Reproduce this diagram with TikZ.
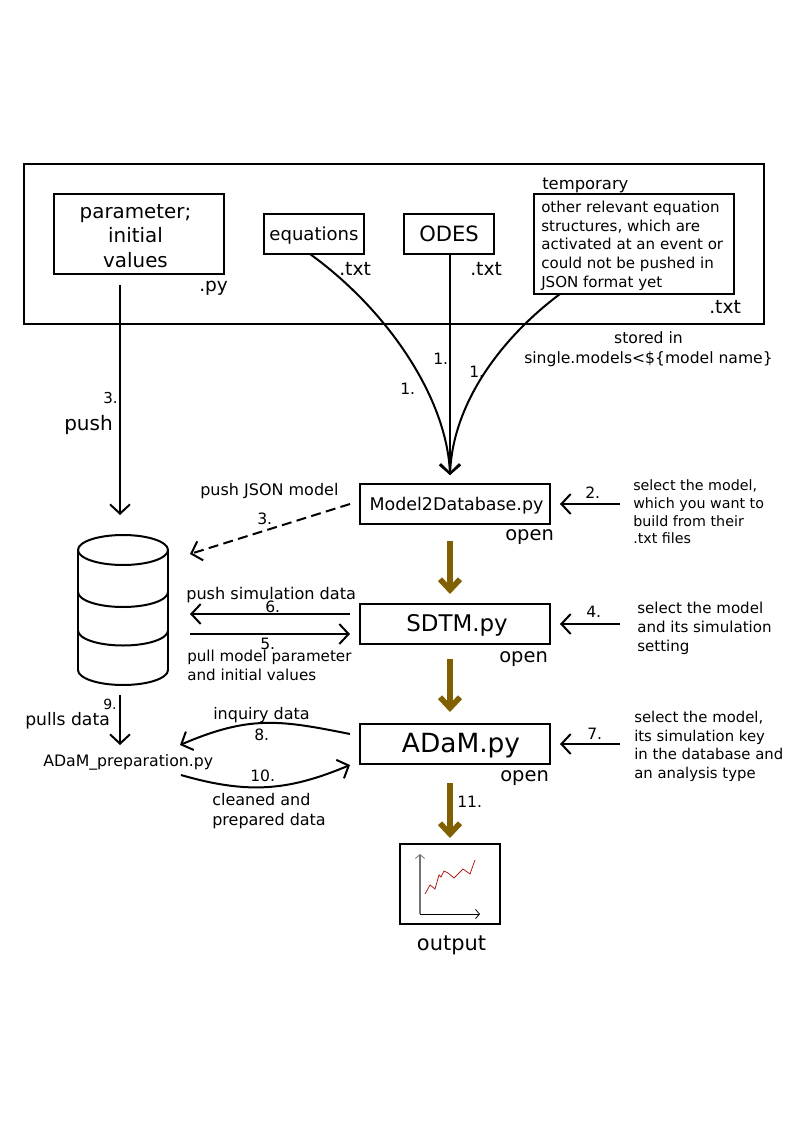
\documentclass[tikz,border=0pt]{standalone}
\usepackage{fontspec}
\setmainfont{DejaVu Sans}
\usetikzlibrary{arrows.meta}
\definecolor{olivearrow}{HTML}{806000}
\definecolor{plotred}{HTML}{B02020}
\newcommand{\fs}[1]{\fontsize{#1}{#1}\selectfont}
\newcommand{\fsl}[2]{\fontsize{#1}{#2}\selectfont}
\tikzset{
  x=0.75pt,y=-0.75pt,
  boxn/.style={draw=black,line width=1.5pt,inner sep=0pt,align=center},
  lab/.style={inner sep=0pt,align=left,text=black},
  labc/.style={inner sep=0pt,align=center,text=black},
  flow/.style={line width=1.5pt,-{Straight Barb[length=7pt,width=15pt,line width=1.5pt]}},
  thick arrow/.style={line width=4.2pt,olivearrow,-{Straight Barb[length=8pt,width=15pt,line width=4.2pt]}},
}
\begin{document}
\begin{tikzpicture}
\useasboundingbox (0,0) rectangle (794,1123);
\fill[white] (0,0) rectangle (794,1123);
% outer frame
\node[boxn,minimum width=555pt,minimum height=120pt] (frame) at (394,244) {};
% top boxes
\node[boxn,minimum width=127.5pt,minimum height=60pt] (param) at (139,234) {};
\node[labc,font=\fsl{14.9}{18.2}] (paramtxt) at (135.5,236) {parameter;\\initial\\values};
\node[boxn,minimum width=75pt,minimum height=30pt,font=\fs{13.55},text height=9.5pt,text depth=0pt] (eq) at (314,234) {equations};
\node[boxn,minimum width=67.5pt,minimum height=30pt,font=\fs{15.8},text height=10.5pt,text depth=0pt] (odes) at (449,234) {ODES};
\node[boxn,minimum width=150pt,minimum height=75pt] (other) at (634,244) {};
\node[lab,font=\fsl{11.3}{14.1},anchor=north west] (othertxt) at (541,200.5) {other relevant equation\\structures, which are\\activated at an event or\\could not be pushed in\\JSON format yet};
\node[lab,font=\fs{12.3},anchor=west] (temp) at (542,185) {temporary};
\node[lab,font=\fs{13.9},anchor=west] (pyl) at (199,288) {.py};
\node[lab,font=\fs{14},anchor=west] (t1) at (339,268.5) {.txt};
\node[lab,font=\fs{14},anchor=west] (t2) at (470,268.5) {.txt};
\node[lab,font=\fs{14},anchor=west] (t3) at (709,306.5) {.txt};
\node[labc,font=\fsl{11.7}{15}] (stored) at (648.5,349) {stored in\\single.models<\$\{model name\}};
% process boxes
\node[boxn,minimum width=142.5pt,minimum height=30pt,font=\fs{13.1},text height=9pt,text depth=0pt] (m2d) at (455,504) {\hspace*{2.2pt}Model2Database.py};
\node[boxn,minimum width=142.5pt,minimum height=30pt,font=\fs{17.2},text height=11pt,text depth=0pt] (sdtm) at (455,624) {\hspace*{3pt}SDTM.py};
\node[boxn,minimum width=142.5pt,minimum height=30pt,font=\fs{19.8},text height=13pt,text depth=0pt] (adam) at (455,744) {\hspace*{9pt}ADaM.py};
\node[boxn,minimum width=75pt,minimum height=60pt] (out) at (450,884) {};
\node[lab,font=\fs{14.6},anchor=west] (open1) at (505,537) {open};
\node[lab,font=\fs{14.6},anchor=west] (open2) at (499,659) {open};
\node[lab,font=\fs{14.6},anchor=west] (open3) at (500,778) {open};
\node[lab,font=\fs{15.7},anchor=center] (outl) at (451.5,945) {output};
% side texts
\node[lab,font=\fsl{10.7}{13.3},anchor=north west] (s2) at (633,479.5) {select the model,\\which you want to\\build from their\\.txt files};
\node[lab,font=\fsl{11.3}{14.2},anchor=north west] (s4) at (637,602) {select the model\\and its simulation\\setting};
\node[lab,font=\fsl{11.15}{14},anchor=north west] (s7) at (634,711) {select the model,\\its simulation key\\in the database and\\an analysis type};
% arrow end coordinates
\coordinate (dbtopin) at (120,515);
\coordinate (pyout) at (120,285);
\coordinate (s2start) at (620,504);
\coordinate (s4start) at (620,624);
\coordinate (s7start) at (620,744);
\coordinate (conv) at (450,475);
% top flows
\draw[flow] (pyout) -- (dbtopin);
\draw[flow] (odes.south) ++(1,0) coordinate (oa) (oa) -- (conv);
\draw[flow] (310,254) coordinate (ea) .. controls (390,312) and (447,400) .. (conv);
\draw[flow] (560,294) coordinate (oc) .. controls (505,335) and (453,400) .. (conv);
\draw[flow] (s2start) -- (m2d.east -| 560,504);
\draw[flow] (s4start) -- (560,624);
\draw[flow] (s7start) -- (560,744);
% thick arrows
\draw[thick arrow] (450,541) coordinate (ta) -- (450,594) coordinate (tb);
\draw[thick arrow] (450,659) coordinate (tc) -- (450,712) coordinate (td);
\draw[thick arrow] (450,783) coordinate (te) -- (450,838) coordinate (tf);
% database
\begin{scope}[line width=1.5pt]
\draw[fill=white] (78,550) arc[start angle=180,end angle=540,x radius=45,y radius=15];
\draw (78,550) -- (78,670) (168,550) -- (168,670);
\draw (78,592) arc[start angle=180,end angle=0,x radius=45,y radius=15];
\draw (78,630.5) arc[start angle=180,end angle=0,x radius=45,y radius=15];
\draw (78,670) arc[start angle=180,end angle=0,x radius=45,y radius=15];
\end{scope}
\node[lab,font=\fs{15},anchor=west] (push) at (64,425) {push};
\node[lab,font=\fs{11.3},anchor=west] (n3a) at (103,398) {3.};
\node[lab,font=\fs{12},anchor=west] (pj) at (200,491) {push JSON model};
\node[lab,font=\fs{11.7},anchor=west] (n3b) at (257,519) {3.};
\draw[flow,dash pattern=on 7.5pt off 4pt] (350,504) coordinate (da) -- (190,554) coordinate (db);
\node[lab,font=\fs{12.1},anchor=west] (psd) at (186,595) {push simulation data};
\node[lab,font=\fs{11.7},anchor=west] (n6) at (265,607) {6.};
\draw[flow] (350,614) coordinate (a6) -- (190,614) coordinate (b6);
\draw[flow] (190,634) coordinate (a5) -- (350,634) coordinate (b5);
\node[lab,font=\fs{11.7},anchor=west] (n5) at (260,644) {5.};
\node[lab,font=\fsl{11.35}{14.2},anchor=north west] (pm) at (187,649.5) {pull model parameter\\and initial values};
\draw[flow] (120,695) coordinate (a9) -- (120,745) coordinate (b9);
\node[lab,font=\fs{10.5},anchor=west] (n9) at (103,704) {9.};
\node[lab,font=\fs{12.9},anchor=west] (pd) at (25,720.5) {pulls data};
\node[lab,font=\fs{11.8},anchor=west] (prep) at (43,762.5) {ADaM\_preparation.py};
\node[lab,font=\fs{12},anchor=west] (inq) at (213,715.5) {inquiry data};
\node[lab,font=\fs{11.7},anchor=west] (n8) at (254,735) {8.};
\draw[flow] (350,734) coordinate (a8) .. controls (280,720) and (250,715) .. (180,745) coordinate (b8);
\draw[flow] (181,775) coordinate (a10) .. controls (250,795) and (290,790) .. (350,765) coordinate (b10);
\node[lab,font=\fs{11.7},anchor=west] (n10) at (250,776) {10.};
\node[lab,font=\fsl{12}{15},anchor=north west] (cl) at (212,793) {cleaned and\\prepared data};
\node[lab,font=\fs{11.7},anchor=west] (n11) at (457,802) {11.};
% other numbers
\node[lab,font=\fs{11.7},anchor=west] (n1a) at (400,389) {1.};
\node[lab,font=\fs{11.7},anchor=west] (n1b) at (433,359) {1.};
\node[lab,font=\fs{11.7},anchor=west] (n1c) at (469,372) {1.};
\node[lab,font=\fs{11.7},anchor=west] (n2) at (585,493) {2.};
\node[lab,font=\fs{11.7},anchor=west] (n4) at (586,612) {4.};
\node[lab,font=\fs{11.7},anchor=west] (n7) at (587,734) {7.};
% plot
\coordinate (po) at (420,914);
\draw[line width=1pt,gray!90!black,-{Straight Barb[length=3pt,width=7pt,line width=0.6pt]}] (po) -- (420,854);
\draw[line width=0.75pt,black,-{Straight Barb[length=3pt,width=7pt,line width=0.6pt]}] (po) -- (480,914);
\draw[plotred,line width=0.6pt] (425,894) -- (430,885) -- (435,889) -- (439,875) -- (441,877) -- (444,871) -- (448,873) -- (454,878) -- (463,869) -- (470,874) -- (475,860);
\end{tikzpicture}
\end{document}
